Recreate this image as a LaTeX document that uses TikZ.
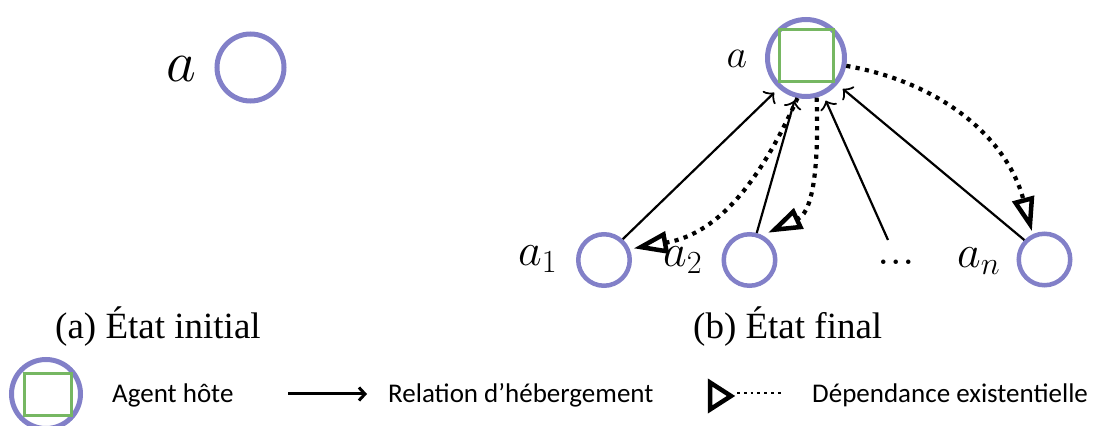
\RequirePackage{fix-cm}
\documentclass[tikz,border=0pt]{standalone}
\usepackage{fontspec}
\setmainfont{Liberation Serif}
\newfontfamily\legfont{Carlito}
\usetikzlibrary{arrows.meta}
\definecolor{agentc}{RGB}{130,128,200}
\definecolor{hostc}{RGB}{118,183,98}
\begin{document}
\begin{tikzpicture}[x=1pt,y=1pt,
  agent/.style={circle, draw=agentc, inner sep=0pt},
  host/.style={rectangle, draw=hostc, inner sep=0pt, line width=3pt},
  hrel/.style={line width=2.2pt, -{Classical TikZ Rightarrow[length=8pt,width=18pt]}},
  dep/.style={line width=4.2pt, dash pattern=on 4.2pt off 5.3pt, -{Triangle[open,length=34pt,width=22pt,line width=4.5pt]}},
  mathlbl/.style={inner sep=0pt},
  caption/.style={inner sep=0pt, anchor=base west, font=\fontsize{37}{39}\selectfont},
  legtext/.style={inner sep=0pt, anchor=base west, font=\legfont\fontsize{27}{29}\selectfont},
]
\useasboundingbox (0,0) rectangle (1096,426);
% (a)
\node[agent, line width=5pt, minimum size=67pt] (a0) at (250.5,358.5) {};
\node[mathlbl, font=\fontsize{58}{60}\selectfont] (la0) at (181,356.5) {$a$};
% (b)
\node[mathlbl, font=\fontsize{40}{42}\selectfont] (lta) at (737,367.5) {$a$};
\node[mathlbl, font=\fontsize{46}{48}\selectfont, anchor=base west] (la1) at (518,160) {$a_1$};
\node[mathlbl, font=\fontsize{46}{48}\selectfont, anchor=base west] (la2) at (663,159) {$a_2$};
\node[mathlbl, font=\fontsize{46}{48}\selectfont, anchor=base west] (lan) at (957,158) {$a_n$};
\node[mathlbl, font=\fontsize{46}{48}\selectfont, anchor=base] (dots) at (896,161.5) {$...$};
\coordinate (d3) at (888,186);
\node[agent, line width=5pt, minimum size=77pt] (ta) at (806,368) {};
\node[host, minimum width=54pt, minimum height=52pt] (tsq) at (806,370) {};
\node[agent, line width=4.5pt, minimum size=51.5pt] (a1) at (604,166) {};
\node[agent, line width=4.5pt, minimum size=51.5pt] (a2) at (749.5,166) {};
\node[agent, line width=4.5pt, minimum size=51.5pt] (an) at (1044.5,166.5) {};
% hosting relations
\draw[hrel, shorten >=6pt] (a1.48) -- (ta.228);
\draw[hrel, shorten >=3pt] (a2.75) -- (ta.255);
\draw[hrel, shorten >=6pt] (d3) -- (ta.295);
\draw[hrel, shorten >=7pt] (an.136) -- (ta.320);
% existential dependencies
\draw[dep, shorten >=4pt] (ta.258) .. controls (762,249) and (721,193) .. (a1.23);
\draw[dep, shorten >=6pt] (ta.285) to[out=272,in=25] (a2.62);
\draw[dep, shorten >=3pt] (ta.349) to[out=-10,in=105] (an.115);
% captions
\node[caption] (capa) at (55,87) {(a) État initial};
\node[caption] (capb) at (693,87) {(b) État final};
% legend
\node[circle, draw=agentc, line width=5pt, minimum width=69pt, minimum height=66pt, inner sep=0pt] (lgc) at (46,32) {};
\node[host, minimum width=47pt, minimum height=42pt] (lgs) at (48,31) {};
\node[legtext] (lg1) at (112,23) {Agent hôte};
\coordinate (lar1) at (288,32);
\coordinate (lar2) at (367,32);
\draw[line width=3pt, -{Straight Barb[length=6pt,width=13pt]}] (lar1) -- (lar2);
\node[legtext] (lg2) at (388,23) {Relation d’hébergement};
\draw[line width=4.5pt, line join=miter] (710,43.5) -- (731,30) -- (710,16.5) -- cycle;
\coordinate (ld1) at (737,33);
\coordinate (ld2) at (783,33);
\draw[line width=2.8pt, dash pattern=on 2.8pt off 4pt] (ld1) -- (ld2);
\node[legtext] (lg3) at (812,23) {Dépendance existentielle};
\end{tikzpicture}
\end{document}
